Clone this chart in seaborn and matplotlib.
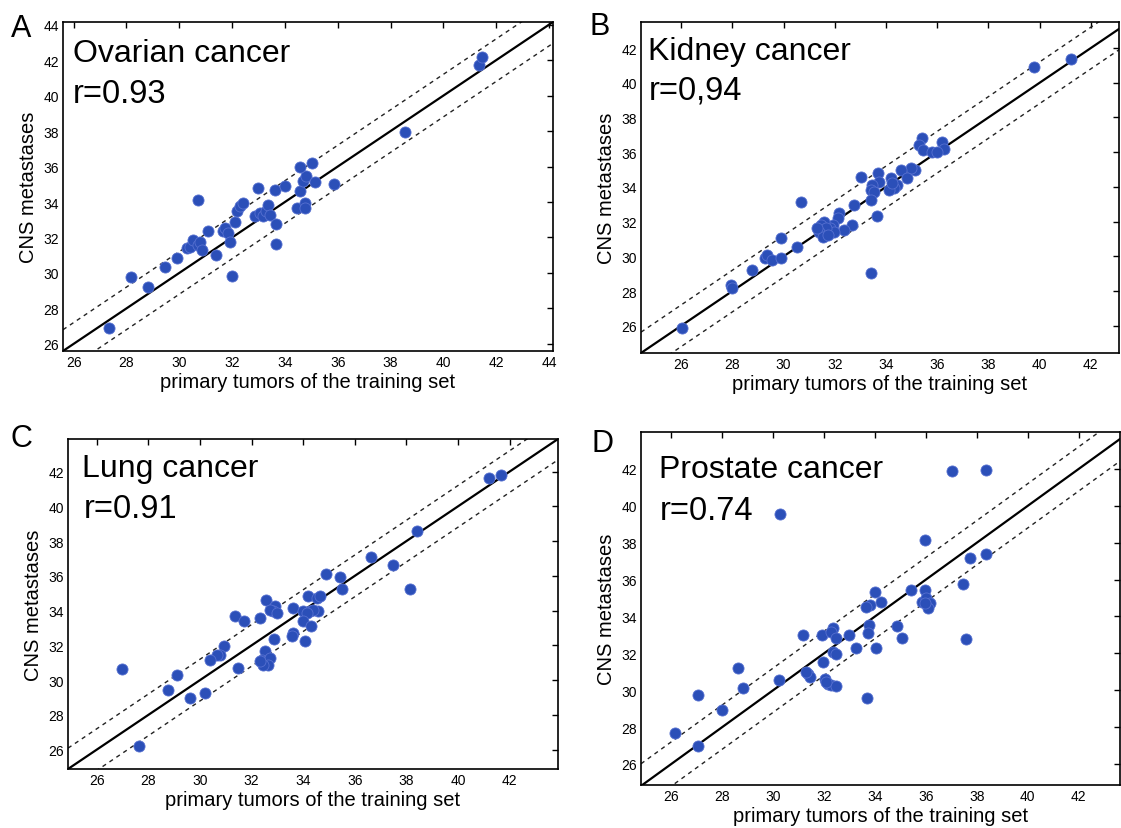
import numpy as np
import pandas as pd
import matplotlib
matplotlib.use("Agg")
import matplotlib.pyplot as plt
import seaborn as sns

# valores (x = tumores primarios, y = metastasis SNC)
ovarian_x = [27.36, 28.17, 28.82, 29.46, 29.90, 30.28, 30.40, 30.53, 30.72, 30.78, 30.85, 30.72,
             31.10, 31.41, 31.66, 31.73, 31.85, 31.92, 32.00, 32.11, 32.17, 32.30, 32.42, 32.87,
             32.97, 33.05, 33.18, 33.28, 33.37, 33.43, 33.62, 33.66, 33.66, 34.00, 34.44, 34.76,
             34.76, 34.57, 34.70, 34.80, 34.57, 35.01, 35.14, 35.85, 38.56, 41.33, 41.47]
ovarian_y = [26.92, 29.80, 29.23, 30.36, 30.84, 31.40, 31.49, 31.87, 31.59, 31.77, 31.31, 34.12,
             32.34, 31.02, 32.34, 32.53, 32.25, 31.77, 29.84, 32.90, 33.47, 33.75, 33.94, 33.19,
             34.79, 33.38, 33.19, 33.47, 33.85, 33.28, 34.66, 32.77, 31.64, 34.88, 33.66, 33.94,
             33.66, 34.60, 35.16, 35.45, 35.98, 36.20, 35.13, 35.02, 37.93, 41.72, 42.19]

kidney_x = [26.03, 27.94, 27.99, 28.78, 29.26, 29.37, 29.54, 29.89, 29.89, 30.51, 30.68, 33.40,
            39.79, 41.24, 35.41, 35.28, 35.46, 35.80, 36.19, 36.26, 36.00, 35.15, 34.96, 34.57,
            34.18, 34.44, 34.31, 34.12, 34.25, 34.83, 33.69, 33.73, 33.47, 33.40, 33.53, 33.40,
            33.01, 33.64, 32.75, 32.69, 32.37, 32.17, 32.11, 31.91, 31.82, 31.95, 31.59, 31.46,
            31.66, 31.39, 31.52, 31.72, 31.32]
kidney_y = [25.87, 28.32, 28.16, 29.22, 29.89, 30.08, 29.79, 29.93, 31.04, 30.56, 33.15, 29.03,
            40.90, 41.38, 36.79, 36.41, 36.12, 36.02, 36.60, 36.21, 36.02, 34.97, 35.06, 34.97,
            34.49, 34.10, 33.91, 33.82, 34.20, 34.49, 34.78, 34.30, 34.10, 33.82, 33.72, 33.24,
            34.58, 32.34, 32.96, 31.81, 31.52, 32.48, 32.19, 31.81, 31.61, 31.42, 32.00, 31.81,
            31.61, 31.42, 31.13, 31.23, 31.61]

lung_x = [26.99, 27.62, 28.76, 29.10, 29.62, 30.20, 34.88, 35.42, 35.49, 36.64, 37.49, 38.15,
          38.40, 41.19, 41.68, 32.55, 32.91, 32.84, 32.71, 32.97, 31.36, 31.71, 32.33, 33.61,
          34.19, 34.52, 34.65, 34.00, 34.26, 34.58, 34.39, 34.13, 34.00, 34.32, 33.61, 33.55,
          34.07, 32.87, 32.52, 32.39, 32.58, 32.71, 32.65, 32.45, 32.33, 31.49, 30.91, 30.78,
          30.65, 30.39]
lung_y = [30.61, 26.19, 29.45, 30.32, 28.98, 29.26, 36.08, 35.92, 35.27, 37.07, 36.60, 35.27,
          38.57, 41.64, 41.80, 34.60, 34.29, 33.97, 34.06, 33.87, 33.68, 33.39, 33.58, 34.16,
          34.83, 34.73, 34.83, 33.97, 33.97, 33.97, 34.06, 33.87, 33.39, 33.10, 32.72, 32.53,
          32.24, 32.37, 31.66, 31.18, 31.09, 31.28, 30.89, 30.89, 31.09, 30.70, 31.95, 31.47,
          31.47, 31.18]

prostate_x = [26.14, 27.05, 27.05, 28.00, 28.60, 28.81, 30.24, 30.27, 35.96, 37.03, 38.36, 37.71,
              38.36, 37.47, 37.59, 33.99, 34.25, 33.79, 33.66, 35.43, 35.96, 35.83, 36.02, 36.15,
              36.09, 35.96, 31.17, 31.92, 32.35, 32.29, 32.48, 32.98, 33.77, 33.73, 33.27, 34.03,
              34.87, 35.05, 32.35, 32.48, 31.96, 31.37, 31.44, 31.30, 32.03, 32.16, 32.29, 32.48,
              32.09, 33.69]
prostate_y = [27.69, 27.00, 29.72, 28.94, 31.21, 30.12, 30.54, 39.58, 38.12, 41.88, 41.92, 37.16,
              37.40, 35.76, 32.77, 35.35, 34.80, 34.62, 34.53, 35.44, 35.44, 34.80, 34.98, 34.71,
              34.44, 34.71, 33.02, 33.02, 33.35, 33.17, 32.81, 33.02, 33.53, 33.08, 32.30, 32.30,
              33.48, 32.81, 32.08, 31.99, 31.54, 30.90, 30.72, 30.99, 30.63, 30.36, 30.26, 30.23,
              30.45, 29.58]

titulos = ["Ovarian cancer", "Kidney cancer", "Lung cancer", "Prostate cancer"]
r_textos = ["r=0.93", "r=0,94", "r=0.91", "r=0.74"]
letras = ["A", "B", "C", "D"]
ticks_A = list(range(26, 46, 2))
ticks_BCD = list(range(26, 44, 2))

sns.set_style("white")
plt.rcParams["font.family"] = ["Liberation Sans", "DejaVu Sans"]
plt.rcParams["text.color"] = "black"
plt.rcParams["axes.labelcolor"] = "black"

W, H = 1121, 829
fig = plt.figure(figsize=(W / 100, H / 100), dpi=100)


def caja(izq, arr, der, aba):
    # posicion de ejes en pixeles -> fraccion de figura
    return [izq / W, 1 - aba / H, (der - izq) / W, (aba - arr) / H]


def px(x, y):
    return x / W, 1 - y / H


paneles = [
    (ovarian_x, ovarian_y, caja(63, 23, 553, 352), (25.6, 44.15), (25.6, 44.15), ticks_A),
    (kidney_x, kidney_y, caja(641, 23, 1119, 354), (24.43, 43.1), (24.43, 43.5), ticks_BCD),
    (lung_x, lung_y, caja(68, 440, 558, 770), (24.88, 43.88), (24.88, 43.88), ticks_BCD),
    (prostate_x, prostate_y, caja(641, 433, 1120, 786), (24.81, 43.62), (24.86, 44.0), ticks_BCD),
]

# posiciones de textos (pixeles): letra, titulo, r
pos_letra = [(11, 37), (590, 35), (11, 447), (592, 452)]
pos_titulo = [(73, 62), (648, 60), (82, 477), (659, 478)]
pos_r = [(73, 103), (649, 100), (84, 518), (660, 520)]

for i, (x, y, rect, xl, yl, tk) in enumerate(paneles):
    ax = fig.add_axes(rect)
    datos = pd.DataFrame({"primario": x, "cns": y})
    linea = np.array([min(xl[0], yl[0]), max(xl[1], yl[1])])
    ax.plot(linea, linea, color="black", lw=1.6)
    ax.plot(linea, linea + 1.2, color="#222222", lw=1.0, ls=(0, (3, 3)))
    ax.plot(linea, linea - 1.2, color="#222222", lw=1.0, ls=(0, (3, 3)))
    sns.scatterplot(data=datos, x="primario", y="cns", ax=ax, color="#2b4fb8",
                    s=64, edgecolor="#5670d0", linewidth=0.6, zorder=3)
    ax.set_xlim(xl)
    ax.set_ylim(yl)
    ax.set_xticks(tk)
    ax.set_yticks(tk)
    ax.tick_params(direction="in", top=True, right=True, length=4, width=1,
                   labelsize=10, pad=3, colors="black")
    for s in ax.spines.values():
        s.set_linewidth(1.2)
        s.set_color("black")
    ax.set_xlabel("primary tumors of the training set", fontsize=14.5, labelpad=2)
    ax.set_ylabel("CNS metastases", fontsize=14.5, labelpad=4)

    fig.text(*px(*pos_letra[i]), letras[i], fontsize=22, va="baseline")
    fig.text(*px(*pos_titulo[i]), titulos[i], fontsize=23, va="baseline")
    fig.text(*px(*pos_r[i]), r_textos[i], fontsize=23.5, va="baseline")

fig.savefig("out.png", dpi=100)
